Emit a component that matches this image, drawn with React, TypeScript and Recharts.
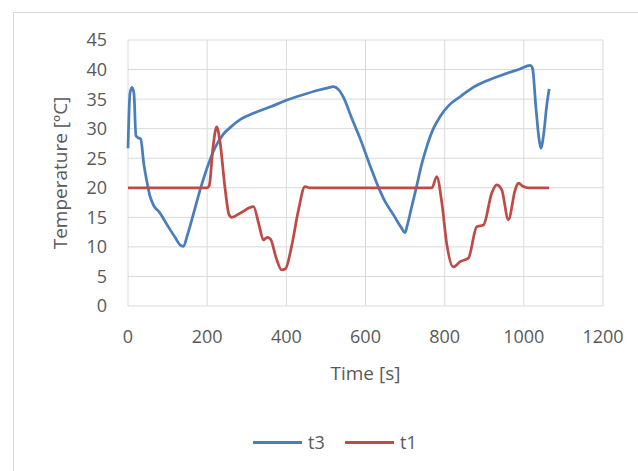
import { LineChart, Line, XAxis, YAxis, CartesianGrid, Label } from "recharts";

// t3 (blue) – sampled off the reference curve
const t3Time = [
  0, 5, 10, 15, 20, 25, 32, 40, 47, 55, 65, 80, 100, 120, 132, 140, 150, 165,
  182, 200, 220, 240, 260, 285, 320, 360, 400, 440, 480, 505, 519, 532, 545,
  565, 586, 610, 632, 650, 670, 690, 700, 705, 715, 729, 742, 755, 770, 788,
  810, 839, 870, 910, 950, 990, 1016, 1022, 1030, 1038, 1043, 1050, 1058, 1064,
];
const t3Temp = [
  26.7, 36, 37, 36, 28.8, 28.5, 28.3, 24, 21.3, 18.7, 17, 15.8, 13.6, 11.5,
  10.3, 10.1, 12, 15.5, 19.6, 23.4, 26.8, 29, 30.3, 31.6, 32.7, 33.7, 34.8,
  35.7, 36.5, 36.9, 37.1, 36.6, 35.2, 31.8, 28.4, 24, 20.2, 17.6, 15.5, 13.3,
  12.4, 13.5, 16.3, 20.2, 24, 27, 29.8, 32, 33.9, 35.4, 36.9, 38.2, 39.2, 40.1,
  40.7, 40.2, 34, 28.5, 26.7, 29, 34, 36.7,
];

// t1 (red)
const t1Time = [
  0, 200, 205, 215, 224, 232, 245, 255, 262, 283, 317, 330, 342, 352, 360, 375,
  388, 398, 413, 430, 447, 460, 768, 780, 793, 805, 822, 839, 860, 881, 898,
  919, 931, 944, 961, 978, 986, 999, 1010, 1064,
];
const t1Temp = [
  20, 20, 20.3, 27, 30.3, 28, 20, 15.5, 15, 15.7, 16.8, 14, 11.2, 11.6, 11.3, 8,
  6.1, 6.3, 10, 16, 20.2, 20, 20, 21.9, 17.4, 10.6, 6.6, 7.5, 8.1, 13.4, 13.7,
  19.1, 20.5, 19.7, 14.6, 19.6, 20.8, 20.2, 20, 20,
];

const timeTicks = [0, 200, 400, 600, 800, 1000, 1200];
const tempTicks = [0, 5, 10, 15, 20, 25, 30, 35, 40, 45];

const BLUE = "#4a7ebb";
const RED = "#be4b48";
const TEXT = "#595959";
const FONT = "'Open Sans', sans-serif";

const t3Data = t3Time.map((t, i) => ({ time: t, temp: t3Temp[i] }));
const t1Data = t1Time.map((t, i) => ({ time: t, temp: t1Temp[i] }));

const XTitle = ({ viewBox }: any) => (
  <text
    x={viewBox.x + viewBox.width / 2}
    y={viewBox.y + 67}
    textAnchor="middle"
    dominantBaseline="central"
    fill={TEXT}
    fontSize={19}
    fontFamily={FONT}
  >
    Time [s]
  </text>
);

const YTitle = ({ viewBox }: any) => {
  const cx = viewBox.x + 12;
  const cy = viewBox.y + viewBox.height / 2;
  return (
    <text
      x={cx}
      y={cy}
      transform={`rotate(-90 ${cx} ${cy})`}
      textAnchor="middle"
      dominantBaseline="central"
      fill={TEXT}
      fontSize={19}
      fontFamily={FONT}
    >
      Temperature [ºC]
    </text>
  );
};

const legendItems = [
  { name: "t3", color: BLUE, left: 253 },
  { name: "t1", color: RED, left: 345 },
];

export default function App() {
  const tick = { fontSize: 18, fill: TEXT, fontFamily: FONT };
  return (
    <div
      style={{
        position: "absolute",
        left: 0,
        top: 0,
        width: 638,
        height: 471,
        overflow: "hidden",
        background: "#fff",
      }}
    >
      <div
        style={{
          position: "absolute",
          left: 13,
          top: 12,
          width: 700,
          height: 520,
          border: "1px solid #d9d9d9",
        }}
      />
      <div style={{ position: "absolute", left: 0, top: 0 }}>
        <LineChart
          width={638}
          height={471}
          margin={{ top: 40, right: 35, left: 48, bottom: 0 }}
        >
          <CartesianGrid stroke="#d9d9d9" />
          <XAxis
            type="number"
            dataKey="time"
            domain={[0, 1200]}
            ticks={timeTicks}
            height={165}
            axisLine={false}
            tickLine={false}
            tickSize={0}
            tickMargin={24}
            tick={tick}
          >
            <Label content={XTitle} />
          </XAxis>
          <YAxis
            type="number"
            dataKey="temp"
            domain={[0, 45]}
            ticks={tempTicks}
            width={80}
            axisLine={false}
            tickLine={false}
            tickSize={0}
            tickMargin={21}
            tick={tick}
          >
            <Label content={YTitle} />
          </YAxis>
          <Line
            data={t3Data}
            dataKey="temp"
            name="t3"
            type="monotone"
            stroke={BLUE}
            strokeWidth={2.75}
            dot={false}
            isAnimationActive={false}
          />
          <Line
            data={t1Data}
            dataKey="temp"
            name="t1"
            type="monotone"
            stroke={RED}
            strokeWidth={2.75}
            dot={false}
            isAnimationActive={false}
          />
        </LineChart>
      </div>
      {legendItems.map((item) => (
        <div
          key={item.name}
          style={{
            position: "absolute",
            left: item.left,
            top: 430,
            height: 24,
            display: "flex",
            alignItems: "center",
            fontFamily: FONT,
            fontSize: 18,
            color: TEXT,
          }}
        >
          <span
            style={{
              display: "inline-block",
              width: 49,
              height: 3,
              background: item.color,
              marginRight: 6,
            }}
          />
          {item.name}
        </div>
      ))}
    </div>
  );
}
